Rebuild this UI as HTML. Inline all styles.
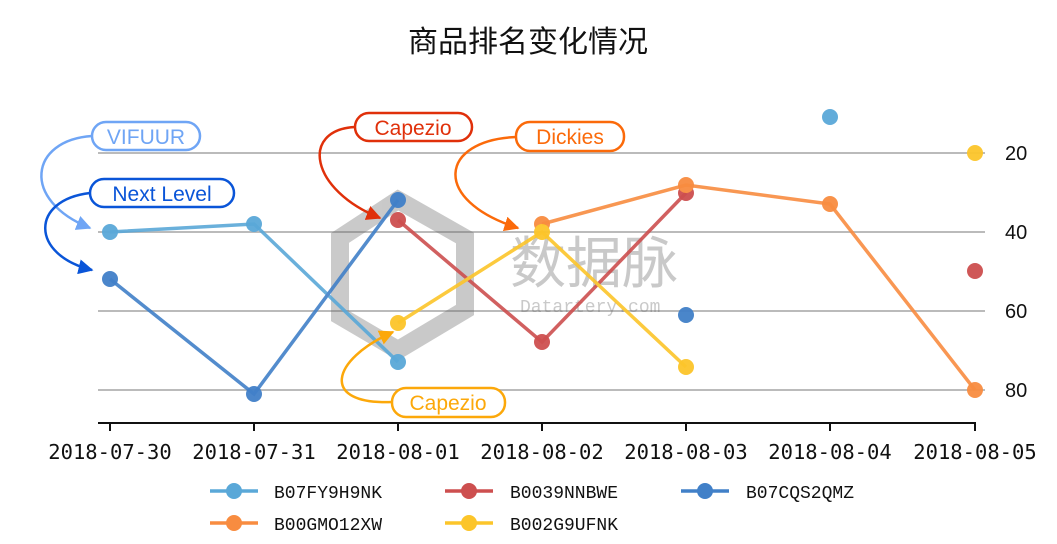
<!DOCTYPE html><html><head><meta charset="utf-8"><style>body{margin:0;background:#fff}svg{display:block}</style></head><body>
<svg width="1057" height="544" xmlns="http://www.w3.org/2000/svg" font-family="'Liberation Sans','Noto Sans CJK SC',sans-serif">
<defs>
<marker id="aL" viewBox="0 0 10 10" refX="9" refY="5" markerWidth="6" markerHeight="6" orient="auto"><path d="M0,0L10,5L0,10z" fill="#6fa5f5"/></marker>
<marker id="aN" viewBox="0 0 10 10" refX="9" refY="5" markerWidth="6" markerHeight="6" orient="auto"><path d="M0,0L10,5L0,10z" fill="#0a55d8"/></marker>
<marker id="aR" viewBox="0 0 10 10" refX="9" refY="5" markerWidth="6" markerHeight="6" orient="auto"><path d="M0,0L10,5L0,10z" fill="#e0300a"/></marker>
<marker id="aO" viewBox="0 0 10 10" refX="9" refY="5" markerWidth="6" markerHeight="6" orient="auto"><path d="M0,0L10,5L0,10z" fill="#fb6a0a"/></marker>
<marker id="aY" viewBox="0 0 10 10" refX="9" refY="5" markerWidth="6" markerHeight="6" orient="auto"><path d="M0,0L10,5L0,10z" fill="#fca80a"/></marker>
</defs>
<text x="528" y="52" font-size="30" text-anchor="middle" fill="#111">商品排名变化情况</text>
<g stroke="#bbb" stroke-width="2">
<line x1="98" y1="153" x2="985" y2="153"/><line x1="98" y1="232" x2="985" y2="232"/><line x1="98" y1="311" x2="985" y2="311"/><line x1="98" y1="390" x2="985" y2="390"/></g>
<g font-size="20" fill="#111"><text x="1005" y="160">20</text><text x="1005" y="239">40</text><text x="1005" y="318">60</text><text x="1005" y="397">80</text></g>
<g opacity="0.35"><path d="M398,200 L465,238 L465,310 L398,350 L340,316 L340,238 Z" fill="none" stroke="#666" stroke-width="18"/>
<text x="510" y="283" font-size="56" fill="#666">数据脉</text><text x="520" y="312" font-size="18" fill="#666" font-family="'Liberation Mono',monospace">Datartery.com</text></g>
<g stroke="#111" stroke-width="2"><line x1="98" y1="423" x2="976" y2="423"/>
<line x1="110" y1="423" x2="110" y2="431"/><line x1="254" y1="423" x2="254" y2="431"/><line x1="398" y1="423" x2="398" y2="431"/><line x1="542" y1="423" x2="542" y2="431"/><line x1="686" y1="423" x2="686" y2="431"/><line x1="830" y1="423" x2="830" y2="431"/><line x1="975" y1="423" x2="975" y2="431"/></g>
<g font-size="20.5" fill="#111" text-anchor="middle" font-family="'DejaVu Sans Mono','Liberation Mono',monospace"><text x="110" y="459">2018-07-30</text><text x="254" y="459">2018-07-31</text><text x="398" y="459">2018-08-01</text><text x="542" y="459">2018-08-02</text><text x="686" y="459">2018-08-03</text><text x="830" y="459">2018-08-04</text><text x="975" y="459">2018-08-05</text></g>
<g stroke-width="3.5" fill="none" opacity="0.9">
<polyline points="110,232 254,224 398,362" stroke="#5aa8d8"/>
<polyline points="398,220 542,342 686,193" stroke="#cd4f4f"/>
<polyline points="110,279 254,394 398,200" stroke="#4180c8"/>
<polyline points="542,224 686,185 830,204 975,390" stroke="#f88c40"/>
<polyline points="398,323 542,232 686,367" stroke="#fcc52a"/>
</g>
<g opacity="0.95">
<g fill="#5aa8d8"><circle cx="110" cy="232" r="8"/><circle cx="254" cy="224" r="8"/><circle cx="398" cy="362" r="8"/><circle cx="830" cy="117" r="8"/></g>
<g fill="#cd4f4f"><circle cx="398" cy="220" r="8"/><circle cx="542" cy="342" r="8"/><circle cx="686" cy="193" r="8"/><circle cx="975" cy="271" r="8"/></g>
<g fill="#4180c8"><circle cx="110" cy="279" r="8"/><circle cx="254" cy="394" r="8"/><circle cx="398" cy="200" r="8"/><circle cx="686" cy="315" r="8"/></g>
<g fill="#f88c40"><circle cx="542" cy="224" r="8"/><circle cx="686" cy="185" r="8"/><circle cx="830" cy="204" r="8"/><circle cx="975" cy="390" r="8"/></g>
<g fill="#fcc52a"><circle cx="398" cy="323" r="8"/><circle cx="542" cy="232" r="8"/><circle cx="686" cy="367" r="8"/><circle cx="975" cy="153" r="8"/></g>
</g>
<g fill="#fff" stroke-width="2.5" font-size="21">
<path d="M92,136 C30,140 20,200 90,228" stroke="#6fa5f5" fill="none" stroke-width="2.5" marker-end="url(#aL)"/>
<rect x="92" y="122" width="108" height="28" rx="14" stroke="#6fa5f5"/><text x="146" y="144" text-anchor="middle" fill="#6fa5f5" stroke="none">VIFUUR</text>
<path d="M90,193 C30,200 30,255 92,270" stroke="#0a55d8" fill="none" stroke-width="2.5" marker-end="url(#aN)"/>
<rect x="90" y="179" width="144" height="28" rx="14" stroke="#0a55d8"/><text x="162" y="201" text-anchor="middle" fill="#0a55d8" stroke="none">Next Level</text>
<path d="M355,127 C300,130 310,190 380,218" stroke="#e0300a" fill="none" stroke-width="2.5" marker-end="url(#aR)"/>
<rect x="355" y="113" width="117" height="28" rx="14" stroke="#e0300a"/><text x="413" y="135" text-anchor="middle" fill="#e0300a" stroke="none">Capezio</text>
<path d="M516,137 C440,140 430,200 518,228" stroke="#fb6a0a" fill="none" stroke-width="2.5" marker-end="url(#aO)"/>
<rect x="516" y="122" width="108" height="29" rx="14" stroke="#fb6a0a"/><text x="570" y="144" text-anchor="middle" fill="#fb6a0a" stroke="none">Dickies</text>
<path d="M392,402 C320,405 330,360 393,332" stroke="#fca80a" fill="none" stroke-width="2.5" marker-end="url(#aY)"/>
<rect x="392" y="388" width="113" height="29" rx="14" stroke="#fca80a"/><text x="448" y="410" text-anchor="middle" fill="#fca80a" stroke="none">Capezio</text>
</g>
<g stroke-width="3.5">
<line x1="210" y1="491" x2="258" y2="491" stroke="#5aa8d8"/><circle cx="234" cy="491" r="8" fill="#5aa8d8"/>
<line x1="445" y1="491" x2="493" y2="491" stroke="#cd4f4f"/><circle cx="469" cy="491" r="8" fill="#cd4f4f"/>
<line x1="681" y1="491" x2="729" y2="491" stroke="#4180c8"/><circle cx="705" cy="491" r="8" fill="#4180c8"/>
<line x1="210" y1="523" x2="258" y2="523" stroke="#f88c40"/><circle cx="234" cy="523" r="8" fill="#f88c40"/>
<line x1="445" y1="523" x2="493" y2="523" stroke="#fcc52a"/><circle cx="469" cy="523" r="8" fill="#fcc52a"/>
</g>
<g font-size="18" fill="#111" font-family="'Liberation Mono',monospace">
<text x="274" y="498">B07FY9H9NK</text><text x="510" y="498">B0039NNBWE</text><text x="746" y="498">B07CQS2QMZ</text>
<text x="274" y="530">B00GMO12XW</text><text x="510" y="530">B002G9UFNK</text></g>
</svg></body></html>
